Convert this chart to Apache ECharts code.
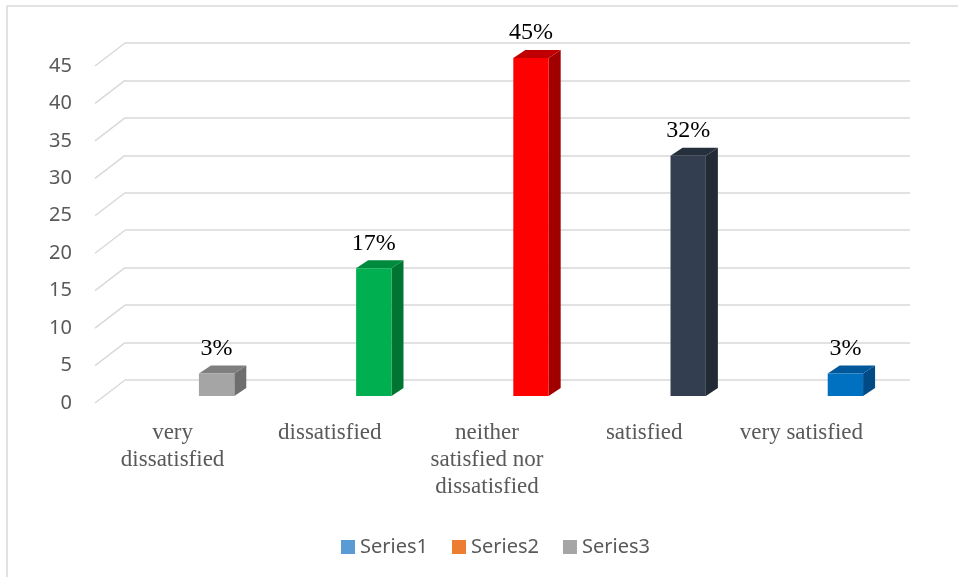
<!DOCTYPE html>
<html>
<head>
<meta charset="utf-8">
<script src="https://cdn.jsdelivr.net/npm/echarts@6/dist/echarts.min.js"></script>
<style>
  html, body { margin: 0; padding: 0; background: #fff; }
  #main { width: 958px; height: 577px; }
</style>
</head>
<body>
<div id="main"></div>
<script>
const categories = ['very\ndissatisfied', 'dissatisfied', 'neither\nsatisfied nor\ndissatisfied', 'satisfied', 'very satisfied'];
const values = [3, 17, 45, 32, 3];
const valueLabels = ['3%', '17%', '45%', '32%', '3%'];
const gridTicks = [0, 5, 10, 15, 20, 25, 30, 35, 40, 45];
const seriesNames = ['Series1', 'Series2', 'Series3'];
const legendColors = ['#5b9bd5', '#ed7d31', '#a5a5a5'];

// face colours per bar: front, top, side
const frontColors = ['#a5a5a5', '#00b050', '#ff0000', '#333f50', '#0070c0'];
const topColors = ['#7f7f7f', '#008a3e', '#c00000', '#262f3c', '#00589a'];
const sideColors = ['#6e6e6e', '#007532', '#a00000', '#222a35', '#004a85'];

const chart = echarts.init(document.getElementById('main'));
const gridColor = '#d9d9d9';
const dx = 12, dy = 8;

chart.setOption({
  animation: false,
  backgroundColor: '#fff',
  graphic: [
    { type: 'line', shape: { x1: 7, y1: 6, x2: 958, y2: 6 }, style: { stroke: gridColor, lineWidth: 1.5 } },
    { type: 'line', shape: { x1: 7, y1: 6, x2: 7, y2: 577 }, style: { stroke: gridColor, lineWidth: 1.5 } }
  ],
  legend: {
    data: seriesNames,
    left: 336,
    top: 532,
    icon: 'rect',
    itemWidth: 14,
    itemHeight: 14,
    itemGap: 24,
    textStyle: { color: '#595959', fontSize: 20, fontFamily: 'Noto Sans' }
  },
  grid: [
    // back wall
    { left: 125, right: 48, top: 43, bottom: 197 },
    // front axis (labels)
    { left: 94, right: 78, top: 66, bottom: 174 },
    // bar front plane
    { left: 138, right: 34, top: 58, bottom: 181 }
  ],
  xAxis: [
    { gridIndex: 0, type: 'category', data: categories, show: false },
    {
      gridIndex: 1, type: 'category', data: categories,
      axisLine: { show: false }, axisTick: { show: false },
      axisLabel: {
        interval: 0, margin: 16, color: '#595959', fontSize: 23,
        fontFamily: 'Liberation Serif', lineHeight: 27
      }
    },
    { gridIndex: 2, type: 'category', data: categories, show: false }
  ],
  yAxis: [
    {
      gridIndex: 0, type: 'value', min: 0, max: 45, interval: 5,
      axisLabel: { show: false }, axisLine: { show: false }, axisTick: { show: false },
      splitLine: { lineStyle: { color: gridColor, width: 1.5 } }
    },
    {
      gridIndex: 1, type: 'value', min: 0, max: 45, interval: 5,
      axisLine: { show: false }, axisTick: { show: false }, splitLine: { show: false },
      axisLabel: { margin: 22, color: '#595959', fontSize: 20, fontFamily: 'Noto Sans' }
    },
    { gridIndex: 2, type: 'value', min: 0, max: 45, show: false }
  ],
  series: [
    {
      // slanted floor/side connectors of the gridlines
      type: 'custom', name: 'connectors', xAxisIndex: 0, yAxisIndex: 0,
      data: gridTicks.map(v => [0, v]),
      silent: true,
      renderItem: function (params, api) {
        const p = api.coord([0, api.value(1)]);
        const x0 = params.coordSys.x;
        return {
          type: 'line',
          shape: { x1: x0, y1: p[1], x2: x0 - 30, y2: p[1] + 23 },
          style: { stroke: gridColor, lineWidth: 1.5 }
        };
      }
    },
    {
      type: 'custom', name: 'Series1', xAxisIndex: 2, yAxisIndex: 2,
      itemStyle: { color: legendColors[0] },
      data: values.map((v, i) => [i, v]),
      renderItem: function (params, api) {
        const i = params.dataIndex;
        const t = api.coord([api.value(0), api.value(1)]);
        const b = api.coord([api.value(0), 0]);
        const w = api.size([1, 0])[0] * 0.225;
        const x0 = t[0] - w / 2, x1 = t[0] + w / 2;
        const yt = t[1], yb = b[1];
        return {
          type: 'group',
          children: [
            {
              type: 'polygon',
              shape: { points: [[x1, yt], [x1 + dx, yt - dy], [x1 + dx, yb - dy], [x1, yb]] },
              style: { fill: sideColors[i] }
            },
            {
              type: 'polygon',
              shape: { points: [[x0, yt], [x0 + dx, yt - dy], [x1 + dx, yt - dy], [x1, yt]] },
              style: { fill: topColors[i] }
            },
            {
              type: 'rect',
              shape: { x: x0, y: yt, width: w, height: yb - yt },
              style: { fill: frontColors[i] }
            },
            {
              type: 'text',
              style: {
                x: t[0], y: yt - 25, text: valueLabels[i],
                align: 'center', verticalAlign: 'middle',
                fill: '#000', fontSize: 24, fontFamily: 'Liberation Serif'
              }
            }
          ]
        };
      }
    },
    { type: 'bar', name: 'Series2', xAxisIndex: 2, yAxisIndex: 2, data: [], itemStyle: { color: legendColors[1] } },
    { type: 'bar', name: 'Series3', xAxisIndex: 2, yAxisIndex: 2, data: [], itemStyle: { color: legendColors[2] } }
  ]
});
</script>
</body>
</html>
